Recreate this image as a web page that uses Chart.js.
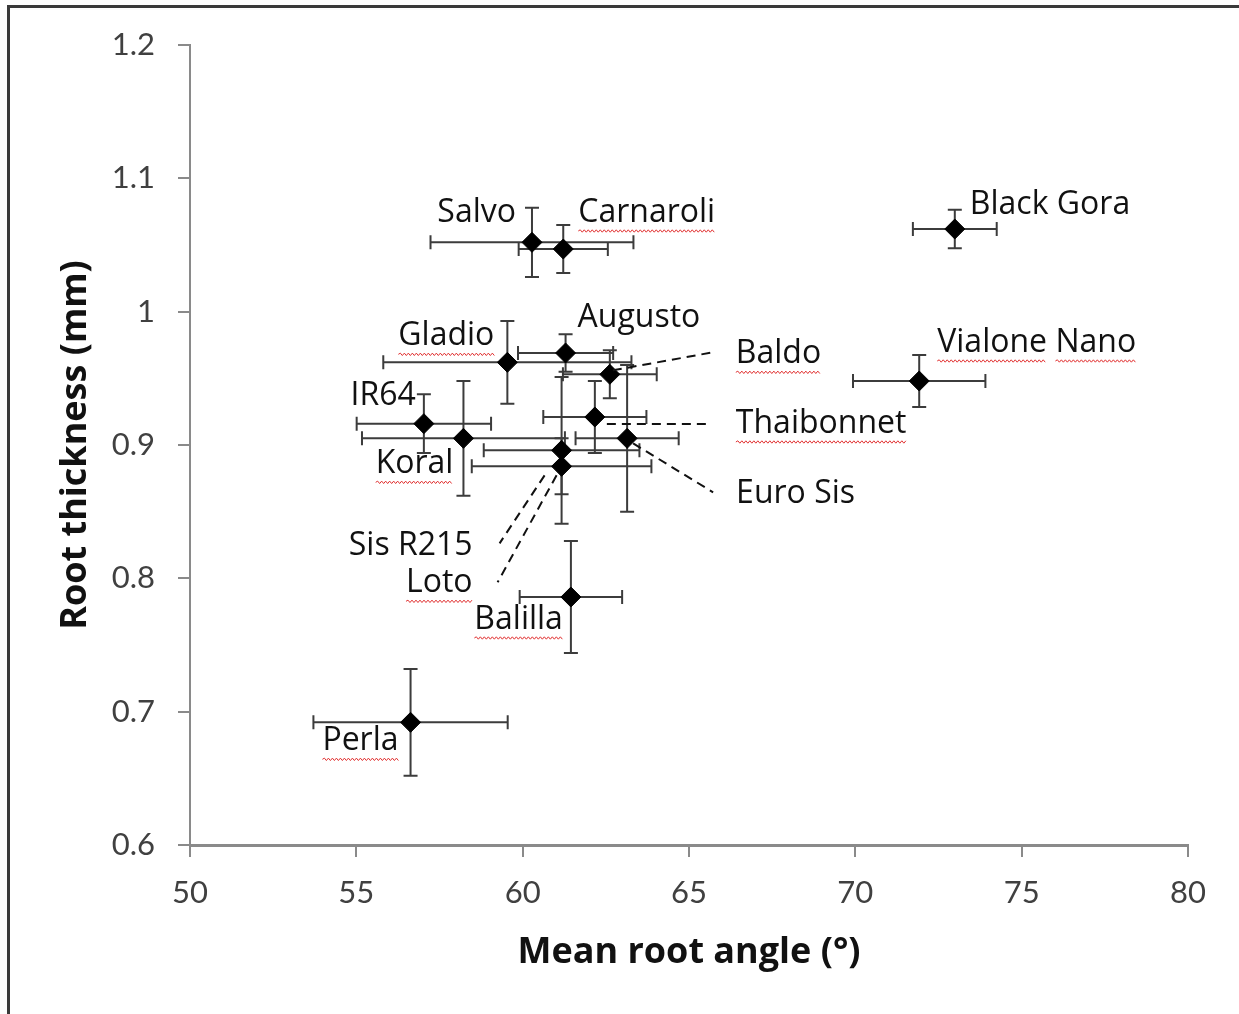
<!DOCTYPE html>
<html lang="en">
<head>
<meta charset="UTF-8">
<title>Root thickness vs mean root angle</title>
<script src="https://cdn.jsdelivr.net/npm/chart.js"></script>
<style>
    body {
        margin: 0;
        background: #fff;
    }
    #frame {
        position: relative;
        width: 1239px;
        height: 1014px;
        overflow: hidden;
        background: #fff;
    }
    #frame:before {
        content: '';
        position: absolute;
        left: 7px;
        top: 5px;
        right: -10px;
        bottom: -10px;
        border-left: 3px solid #3a3a3a;
        border-top: 3px solid #3a3a3a;
    }
    canvas {
        position: absolute;
        left: 0;
        top: 0;
    }
</style>
</head>
<body>
<div id="frame"><canvas id="chart" width="1239" height="1014"></canvas></div>
<script>
// values
const varieties = ['Salvo', 'Carnaroli', 'Black Gora', 'Gladio', 'Augusto', 'Baldo', 'Vialone Nano', 'IR64',
    'Thaibonnet', 'Koral', 'Euro Sis', 'Sis R215', 'Loto', 'Balilla', 'Perla'];
const meanAngle = [60.28, 61.22, 72.99, 59.54, 61.29, 62.62, 71.92, 57.03, 62.17, 58.22, 63.14, 61.17, 61.17, 61.45, 56.63];
const angleErr = [3.05, 1.34, 1.26, 3.73, 1.43, 1.41, 1.99, 2.02, 1.55, 3.05, 1.55, 2.34, 2.70, 1.54, 2.92];
const rootThickness = [1.052, 1.047, 1.062, 0.962, 0.969, 0.953, 0.948, 0.916, 0.921, 0.905, 0.905, 0.896, 0.884, 0.786, 0.692];
const thicknessErr = [0.026, 0.018, 0.0145, 0.031, 0.014, 0.018, 0.0195, 0.022, 0.027, 0.043, 0.055, 0.055, 0.021, 0.042, 0.040];
const xTickValues = [50, 55, 60, 65, 70, 75, 80];
const yTickValues = [0.6, 0.7, 0.8, 0.9, 1.0, 1.1, 1.2];

const TICK_FONT = 'Lato, "Open Sans", sans-serif';
const TEXT_FONT = '"Open Sans", Lato, sans-serif';

// label placement relative to the marker (px); leader = dashed line [from, to]
const labelPlacement = {
    'Salvo':        { dx: -16, dy: -29, align: 'right' },
    'Carnaroli':    { dx: 15,  dy: -36, align: 'left', squiggle: true },
    'Black Gora':   { dx: 15,  dy: -24, align: 'left' },
    'Gladio':       { dx: -13, dy: -26, align: 'right', squiggle: true },
    'Augusto':      { dx: 12,  dy: -35, align: 'left' },
    'Baldo':        { dx: 126, dy: -20, align: 'left', squiggle: true, leader: [[3, -4], [103, -22]] },
    'Vialone Nano': { dx: 18,  dy: -38, align: 'left', squiggle: true },
    'IR64':         { dx: -8,  dy: -28, align: 'right' },
    'Thaibonnet':   { dx: 141, dy: 7,   align: 'left', squiggle: true, leader: [[12, 7], [113, 7]] },
    'Koral':        { dx: -10, dy: 26,  align: 'right', squiggle: true },
    'Euro Sis':     { dx: 109, dy: 56,  align: 'left', leader: [[6, 5], [86, 54]] },
    'Sis R215':     { dx: -89, dy: 96,  align: 'right', leader: [[-17, 25], [-62, 93]] },
    'Loto':         { dx: -89, dy: 117, align: 'right', squiggle: true, leader: [[-5, 9], [-64, 116]] },
    'Balilla':      { dx: -8,  dy: 23,  align: 'right', squiggle: true },
    'Perla':        { dx: -12, dy: 19,  align: 'right', squiggle: true }
};

const points = varieties.map((name, i) => ({ x: meanAngle[i], y: rootThickness[i] }));

const errorBars = {
    id: 'errorBars',
    beforeDatasetsDraw(chart) {
        const { ctx, scales: { x, y } } = chart;
        const cap = 7;
        ctx.save();
        ctx.strokeStyle = '#3c3c3c';
        ctx.lineWidth = 2;
        varieties.forEach((name, i) => {
            const px = x.getPixelForValue(meanAngle[i]);
            const py = y.getPixelForValue(rootThickness[i]);
            const x0 = x.getPixelForValue(meanAngle[i] - angleErr[i]);
            const x1 = x.getPixelForValue(meanAngle[i] + angleErr[i]);
            const y0 = y.getPixelForValue(rootThickness[i] + thicknessErr[i]);
            const y1 = y.getPixelForValue(rootThickness[i] - thicknessErr[i]);
            ctx.beginPath();
            ctx.moveTo(x0, py); ctx.lineTo(x1, py);
            ctx.moveTo(x0, py - cap); ctx.lineTo(x0, py + cap);
            ctx.moveTo(x1, py - cap); ctx.lineTo(x1, py + cap);
            ctx.moveTo(px, y0); ctx.lineTo(px, y1);
            ctx.moveTo(px - cap, y0); ctx.lineTo(px + cap, y0);
            ctx.moveTo(px - cap, y1); ctx.lineTo(px + cap, y1);
            ctx.stroke();
        });
        ctx.restore();
    }
};

function drawSquiggle(ctx, x0, x1, yBase) {
    ctx.beginPath();
    let up = true;
    ctx.moveTo(x0, yBase);
    for (let xx = x0 + 2; xx <= x1; xx += 2) {
        ctx.lineTo(xx, yBase + (up ? -1.2 : 1.2));
        up = !up;
    }
    ctx.stroke();
}

const pointLabels = {
    id: 'pointLabels',
    afterDatasetsDraw(chart) {
        const { ctx, scales: { x, y } } = chart;
        ctx.save();
        ctx.font = '32px ' + TEXT_FONT;
        ctx.textBaseline = 'middle';
        varieties.forEach((name, i) => {
            const p = labelPlacement[name];
            const px = x.getPixelForValue(meanAngle[i]);
            const py = y.getPixelForValue(rootThickness[i]);
            if (p.leader) {
                ctx.strokeStyle = '#111';
                ctx.lineWidth = 2;
                ctx.setLineDash([9, 6]);
                ctx.beginPath();
                ctx.moveTo(px + p.leader[0][0], py + p.leader[0][1]);
                ctx.lineTo(px + p.leader[1][0], py + p.leader[1][1]);
                ctx.stroke();
                ctx.setLineDash([]);
            }
            const tx = px + p.dx;
            const ty = py + p.dy;
            ctx.fillStyle = '#111';
            ctx.textAlign = p.align;
            ctx.fillText(name, tx, ty);
            if (p.squiggle) {
                const w = ctx.measureText(name).width;
                const left = p.align === 'right' ? tx - w : tx;
                ctx.strokeStyle = '#e03030';
                ctx.lineWidth = 1;
                let cursor = left;
                name.split(' ').forEach(word => {
                    const ww = ctx.measureText(word).width;
                    drawSquiggle(ctx, cursor, cursor + ww, ty + 18);
                    cursor += ww + ctx.measureText(' ').width;
                });
            }
        });
        ctx.restore();
    }
};

new Chart(document.getElementById('chart'), {
    type: 'scatter',
    data: {
        datasets: [{
            label: 'Varieties',
            data: points,
            pointStyle: 'rectRot',
            pointRadius: 10,
            pointHoverRadius: 10,
            backgroundColor: '#000',
            borderColor: '#000',
            borderWidth: 1
        }]
    },
    options: {
        responsive: false,
        animation: false,
        events: [],
        layout: { padding: { top: 45, right: 51, left: 0, bottom: 0 } },
        plugins: {
            legend: { display: false },
            tooltip: { enabled: false }
        },
        scales: {
            x: {
                type: 'linear',
                min: 50,
                max: 80,
                afterBuildTicks: s => { s.ticks = xTickValues.map(v => ({ value: v })); },
                afterFit: s => { s.height = 169; },
                border: { color: '#8a8a8a', width: 3 },
                grid: { drawOnChartArea: false, tickLength: 12, color: '#8a8a8a', lineWidth: 2 },
                ticks: { color: '#404040', font: { family: TICK_FONT, size: 31 }, padding: 17, maxRotation: 0 },
                title: {
                    display: true,
                    text: 'Mean root angle (°)',
                    color: '#111',
                    font: { family: TEXT_FONT, size: 36, weight: 'bold' },
                    padding: { top: 0, bottom: 40 }
                }
            },
            y: {
                type: 'linear',
                min: 0.6,
                max: 1.2,
                afterBuildTicks: s => { s.ticks = yTickValues.map(v => ({ value: v })); },
                afterFit: s => { s.width = 190; },
                border: { color: '#8a8a8a', width: 2 },
                grid: { drawOnChartArea: false, tickLength: 12, color: '#8a8a8a', lineWidth: 2 },
                ticks: {
                    color: '#404040',
                    font: { family: TICK_FONT, size: 31 },
                    padding: 23,
                    callback: v => String(+v.toFixed(1))
                },
                title: {
                    display: true,
                    text: 'Root thickness (mm)',
                    color: '#111',
                    font: { family: TEXT_FONT, size: 36, weight: 'bold' },
                    padding: { top: 54, bottom: 0 }
                }
            }
        }
    },
    plugins: [errorBars, pointLabels]
});
</script>
</body>
</html>
